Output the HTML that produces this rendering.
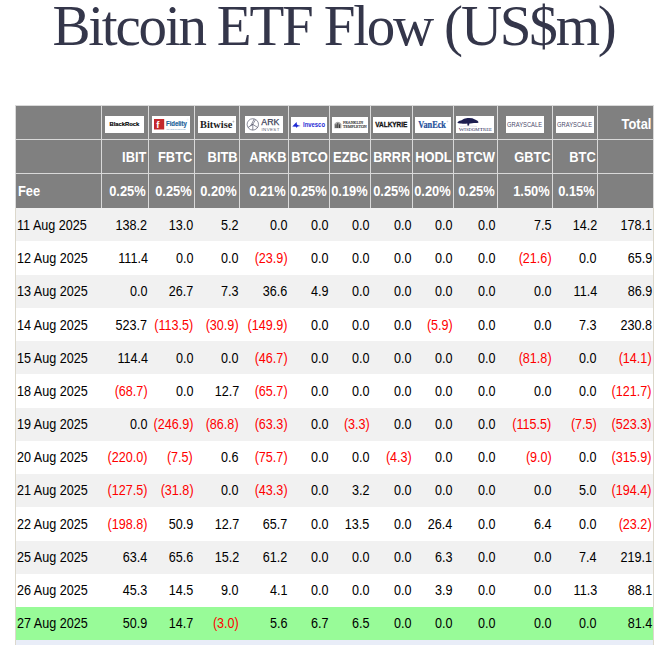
<!DOCTYPE html>
<html lang="en"><head><meta charset="utf-8"><title>Bitcoin ETF Flow (US$m)</title>
<style>
html,body{margin:0;padding:0;background:#fff}
body{width:660px;height:645px;overflow:hidden;position:relative}
h1{position:absolute;margin:0;left:52.4px;top:-7px;font-family:"Liberation Serif","Times New Roman",serif;font-weight:normal;font-size:57px;line-height:66px;color:#34364a;white-space:nowrap;letter-spacing:-2.2px}
.tbl{position:absolute;left:0;top:0;width:660px;height:645px}
.bg{position:absolute}
.t{position:absolute;white-space:nowrap;font-family:"Liberation Sans",Arial,sans-serif;font-size:14px;line-height:16px;color:#000;transform:scaleX(0.92);transform-origin:100% 0}
.l{transform-origin:0 0}
.d{transform:scaleX(0.9)}
.h{color:#fff;font-weight:bold}
.n{color:#f00}
.logo{position:absolute;background:#fff}
.logo svg{position:absolute;left:0;top:0}
</style></head><body>

<h1>Bitcoin ETF Flow (US$m)</h1>
<div class="tbl">
<div class="bg" style="left:15px;top:105px;width:639px;height:103px;background:#d9d9d9"></div>
<div class="bg" style="left:16px;top:106px;width:85px;height:33px;background:#808080"></div>
<div class="bg" style="left:102px;top:106px;width:46px;height:33px;background:#808080"></div>
<div class="bg" style="left:149px;top:106px;width:45px;height:33px;background:#808080"></div>
<div class="bg" style="left:195px;top:106px;width:44px;height:33px;background:#808080"></div>
<div class="bg" style="left:240px;top:106px;width:48px;height:33px;background:#808080"></div>
<div class="bg" style="left:289px;top:106px;width:40px;height:33px;background:#808080"></div>
<div class="bg" style="left:330px;top:106px;width:40px;height:33px;background:#808080"></div>
<div class="bg" style="left:371px;top:106px;width:41px;height:33px;background:#808080"></div>
<div class="bg" style="left:413px;top:106px;width:40px;height:33px;background:#808080"></div>
<div class="bg" style="left:454px;top:106px;width:43px;height:33px;background:#808080"></div>
<div class="bg" style="left:498px;top:106px;width:54px;height:33px;background:#808080"></div>
<div class="bg" style="left:553px;top:106px;width:44px;height:33px;background:#808080"></div>
<div class="bg" style="left:598px;top:106px;width:55px;height:33px;background:#808080"></div>
<div class="bg" style="left:16px;top:140px;width:85px;height:33px;background:#808080"></div>
<div class="bg" style="left:102px;top:140px;width:46px;height:33px;background:#808080"></div>
<div class="bg" style="left:149px;top:140px;width:45px;height:33px;background:#808080"></div>
<div class="bg" style="left:195px;top:140px;width:44px;height:33px;background:#808080"></div>
<div class="bg" style="left:240px;top:140px;width:48px;height:33px;background:#808080"></div>
<div class="bg" style="left:289px;top:140px;width:40px;height:33px;background:#808080"></div>
<div class="bg" style="left:330px;top:140px;width:40px;height:33px;background:#808080"></div>
<div class="bg" style="left:371px;top:140px;width:41px;height:33px;background:#808080"></div>
<div class="bg" style="left:413px;top:140px;width:40px;height:33px;background:#808080"></div>
<div class="bg" style="left:454px;top:140px;width:43px;height:33px;background:#808080"></div>
<div class="bg" style="left:498px;top:140px;width:54px;height:33px;background:#808080"></div>
<div class="bg" style="left:553px;top:140px;width:44px;height:33px;background:#808080"></div>
<div class="bg" style="left:598px;top:140px;width:55px;height:33px;background:#808080"></div>
<div class="bg" style="left:16px;top:174px;width:85px;height:34px;background:#808080"></div>
<div class="bg" style="left:102px;top:174px;width:46px;height:34px;background:#808080"></div>
<div class="bg" style="left:149px;top:174px;width:45px;height:34px;background:#808080"></div>
<div class="bg" style="left:195px;top:174px;width:44px;height:34px;background:#808080"></div>
<div class="bg" style="left:240px;top:174px;width:48px;height:34px;background:#808080"></div>
<div class="bg" style="left:289px;top:174px;width:40px;height:34px;background:#808080"></div>
<div class="bg" style="left:330px;top:174px;width:40px;height:34px;background:#808080"></div>
<div class="bg" style="left:371px;top:174px;width:41px;height:34px;background:#808080"></div>
<div class="bg" style="left:413px;top:174px;width:40px;height:34px;background:#808080"></div>
<div class="bg" style="left:454px;top:174px;width:43px;height:34px;background:#808080"></div>
<div class="bg" style="left:498px;top:174px;width:54px;height:34px;background:#808080"></div>
<div class="bg" style="left:553px;top:174px;width:44px;height:34px;background:#808080"></div>
<div class="bg" style="left:598px;top:174px;width:55px;height:34px;background:#808080"></div>
<div class="bg" style="left:16px;top:208.0px;width:637px;height:33.25px;background:#f1f1f1"></div>
<div class="bg" style="left:16px;top:241.25px;width:637px;height:33.25px;background:#fff"></div>
<div class="bg" style="left:16px;top:274.5px;width:637px;height:33.25px;background:#f1f1f1"></div>
<div class="bg" style="left:16px;top:307.75px;width:637px;height:33.25px;background:#fff"></div>
<div class="bg" style="left:16px;top:341.0px;width:637px;height:33.25px;background:#f1f1f1"></div>
<div class="bg" style="left:16px;top:374.25px;width:637px;height:33.25px;background:#fff"></div>
<div class="bg" style="left:16px;top:407.5px;width:637px;height:33.25px;background:#f1f1f1"></div>
<div class="bg" style="left:16px;top:440.75px;width:637px;height:33.25px;background:#fff"></div>
<div class="bg" style="left:16px;top:474.0px;width:637px;height:33.25px;background:#f1f1f1"></div>
<div class="bg" style="left:16px;top:507.25px;width:637px;height:33.25px;background:#fff"></div>
<div class="bg" style="left:16px;top:540.5px;width:637px;height:33.25px;background:#f1f1f1"></div>
<div class="bg" style="left:16px;top:573.75px;width:637px;height:33.25px;background:#fff"></div>
<div class="bg" style="left:16px;top:607.0px;width:637px;height:33.25px;background:#98fb98"></div>
<div class="bg" style="left:16px;top:640.25px;width:637px;height:20px;background:#e9edf8"></div>
<div class="bg" style="left:15px;top:208px;width:1px;height:437px;background:#dcd8cc"></div>
<div class="bg" style="left:653px;top:208px;width:1px;height:437px;background:#dcd8cc"></div>
<div class="t h" style="right:513.60px;top:149px">IBIT</div>
<div class="t h" style="right:514.10px;top:183px">0.25%</div>
<div class="t h" style="right:467.70px;top:149px">FBTC</div>
<div class="t h" style="right:468.20px;top:183px">0.25%</div>
<div class="t h" style="right:422.80px;top:149px">BITB</div>
<div class="t h" style="right:423.30px;top:183px">0.20%</div>
<div class="t h" style="right:373.70px;top:149px">ARKB</div>
<div class="t h" style="right:374.20px;top:183px">0.21%</div>
<div class="t h" style="right:332.80px;top:149px">BTCO</div>
<div class="t h" style="right:333.30px;top:183px">0.25%</div>
<div class="t h" style="right:291.60px;top:149px">EZBC</div>
<div class="t h" style="right:292.10px;top:183px">0.19%</div>
<div class="t h" style="right:249.60px;top:149px">BRRR</div>
<div class="t h" style="right:250.10px;top:183px">0.25%</div>
<div class="t h" style="right:208.70px;top:149px">HODL</div>
<div class="t h" style="right:209.20px;top:183px">0.20%</div>
<div class="t h" style="right:164.60px;top:149px">BTCW</div>
<div class="t h" style="right:165.10px;top:183px">0.25%</div>
<div class="t h" style="right:109.60px;top:149px">GBTC</div>
<div class="t h" style="right:110.10px;top:183px">1.50%</div>
<div class="t h" style="right:64.60px;top:149px">BTC</div>
<div class="t h" style="right:65.10px;top:183px">0.15%</div>
<div class="t h" style="right:8.30px;top:116px">Total</div>
<div class="t h l" style="left:17.7px;top:183px">Fee</div>
<div class="t l d" style="left:16.6px;top:217px">11 Aug 2025</div>
<div class="t d" style="right:512.50px;top:217px">138.2</div>
<div class="t d" style="right:466.90px;top:217px">13.0</div>
<div class="t d" style="right:421.10px;top:217px">5.2</div>
<div class="t d" style="right:372.70px;top:217px">0.0</div>
<div class="t d" style="right:331.30px;top:217px">0.0</div>
<div class="t d" style="right:290.40px;top:217px">0.0</div>
<div class="t d" style="right:248.60px;top:217px">0.0</div>
<div class="t d" style="right:207.70px;top:217px">0.0</div>
<div class="t d" style="right:164.10px;top:217px">0.0</div>
<div class="t d" style="right:108.30px;top:217px">7.5</div>
<div class="t d" style="right:63.10px;top:217px">14.2</div>
<div class="t d" style="right:8.20px;top:217px">178.1</div>
<div class="t l d" style="left:16.6px;top:250px">12 Aug 2025</div>
<div class="t d" style="right:512.50px;top:250px">111.4</div>
<div class="t d" style="right:466.90px;top:250px">0.0</div>
<div class="t d" style="right:421.10px;top:250px">0.0</div>
<div class="t d n" style="right:372.70px;top:250px">(23.9)</div>
<div class="t d" style="right:331.30px;top:250px">0.0</div>
<div class="t d" style="right:290.40px;top:250px">0.0</div>
<div class="t d" style="right:248.60px;top:250px">0.0</div>
<div class="t d" style="right:207.70px;top:250px">0.0</div>
<div class="t d" style="right:164.10px;top:250px">0.0</div>
<div class="t d n" style="right:108.30px;top:250px">(21.6)</div>
<div class="t d" style="right:63.10px;top:250px">0.0</div>
<div class="t d" style="right:8.20px;top:250px">65.9</div>
<div class="t l d" style="left:16.6px;top:283px">13 Aug 2025</div>
<div class="t d" style="right:512.50px;top:283px">0.0</div>
<div class="t d" style="right:466.90px;top:283px">26.7</div>
<div class="t d" style="right:421.10px;top:283px">7.3</div>
<div class="t d" style="right:372.70px;top:283px">36.6</div>
<div class="t d" style="right:331.30px;top:283px">4.9</div>
<div class="t d" style="right:290.40px;top:283px">0.0</div>
<div class="t d" style="right:248.60px;top:283px">0.0</div>
<div class="t d" style="right:207.70px;top:283px">0.0</div>
<div class="t d" style="right:164.10px;top:283px">0.0</div>
<div class="t d" style="right:108.30px;top:283px">0.0</div>
<div class="t d" style="right:63.10px;top:283px">11.4</div>
<div class="t d" style="right:8.20px;top:283px">86.9</div>
<div class="t l d" style="left:16.6px;top:317px">14 Aug 2025</div>
<div class="t d" style="right:512.50px;top:317px">523.7</div>
<div class="t d n" style="right:466.90px;top:317px">(113.5)</div>
<div class="t d n" style="right:421.10px;top:317px">(30.9)</div>
<div class="t d n" style="right:372.70px;top:317px">(149.9)</div>
<div class="t d" style="right:331.30px;top:317px">0.0</div>
<div class="t d" style="right:290.40px;top:317px">0.0</div>
<div class="t d" style="right:248.60px;top:317px">0.0</div>
<div class="t d n" style="right:207.70px;top:317px">(5.9)</div>
<div class="t d" style="right:164.10px;top:317px">0.0</div>
<div class="t d" style="right:108.30px;top:317px">0.0</div>
<div class="t d" style="right:63.10px;top:317px">7.3</div>
<div class="t d" style="right:8.20px;top:317px">230.8</div>
<div class="t l d" style="left:16.6px;top:350px">15 Aug 2025</div>
<div class="t d" style="right:512.50px;top:350px">114.4</div>
<div class="t d" style="right:466.90px;top:350px">0.0</div>
<div class="t d" style="right:421.10px;top:350px">0.0</div>
<div class="t d n" style="right:372.70px;top:350px">(46.7)</div>
<div class="t d" style="right:331.30px;top:350px">0.0</div>
<div class="t d" style="right:290.40px;top:350px">0.0</div>
<div class="t d" style="right:248.60px;top:350px">0.0</div>
<div class="t d" style="right:207.70px;top:350px">0.0</div>
<div class="t d" style="right:164.10px;top:350px">0.0</div>
<div class="t d n" style="right:108.30px;top:350px">(81.8)</div>
<div class="t d" style="right:63.10px;top:350px">0.0</div>
<div class="t d n" style="right:8.20px;top:350px">(14.1)</div>
<div class="t l d" style="left:16.6px;top:383px">18 Aug 2025</div>
<div class="t d n" style="right:512.50px;top:383px">(68.7)</div>
<div class="t d" style="right:466.90px;top:383px">0.0</div>
<div class="t d" style="right:421.10px;top:383px">12.7</div>
<div class="t d n" style="right:372.70px;top:383px">(65.7)</div>
<div class="t d" style="right:331.30px;top:383px">0.0</div>
<div class="t d" style="right:290.40px;top:383px">0.0</div>
<div class="t d" style="right:248.60px;top:383px">0.0</div>
<div class="t d" style="right:207.70px;top:383px">0.0</div>
<div class="t d" style="right:164.10px;top:383px">0.0</div>
<div class="t d" style="right:108.30px;top:383px">0.0</div>
<div class="t d" style="right:63.10px;top:383px">0.0</div>
<div class="t d n" style="right:8.20px;top:383px">(121.7)</div>
<div class="t l d" style="left:16.6px;top:416px">19 Aug 2025</div>
<div class="t d" style="right:512.50px;top:416px">0.0</div>
<div class="t d n" style="right:466.90px;top:416px">(246.9)</div>
<div class="t d n" style="right:421.10px;top:416px">(86.8)</div>
<div class="t d n" style="right:372.70px;top:416px">(63.3)</div>
<div class="t d" style="right:331.30px;top:416px">0.0</div>
<div class="t d n" style="right:290.40px;top:416px">(3.3)</div>
<div class="t d" style="right:248.60px;top:416px">0.0</div>
<div class="t d" style="right:207.70px;top:416px">0.0</div>
<div class="t d" style="right:164.10px;top:416px">0.0</div>
<div class="t d n" style="right:108.30px;top:416px">(115.5)</div>
<div class="t d n" style="right:63.10px;top:416px">(7.5)</div>
<div class="t d n" style="right:8.20px;top:416px">(523.3)</div>
<div class="t l d" style="left:16.6px;top:449px">20 Aug 2025</div>
<div class="t d n" style="right:512.50px;top:449px">(220.0)</div>
<div class="t d n" style="right:466.90px;top:449px">(7.5)</div>
<div class="t d" style="right:421.10px;top:449px">0.6</div>
<div class="t d n" style="right:372.70px;top:449px">(75.7)</div>
<div class="t d" style="right:331.30px;top:449px">0.0</div>
<div class="t d" style="right:290.40px;top:449px">0.0</div>
<div class="t d n" style="right:248.60px;top:449px">(4.3)</div>
<div class="t d" style="right:207.70px;top:449px">0.0</div>
<div class="t d" style="right:164.10px;top:449px">0.0</div>
<div class="t d n" style="right:108.30px;top:449px">(9.0)</div>
<div class="t d" style="right:63.10px;top:449px">0.0</div>
<div class="t d n" style="right:8.20px;top:449px">(315.9)</div>
<div class="t l d" style="left:16.6px;top:482px">21 Aug 2025</div>
<div class="t d n" style="right:512.50px;top:482px">(127.5)</div>
<div class="t d n" style="right:466.90px;top:482px">(31.8)</div>
<div class="t d" style="right:421.10px;top:482px">0.0</div>
<div class="t d n" style="right:372.70px;top:482px">(43.3)</div>
<div class="t d" style="right:331.30px;top:482px">0.0</div>
<div class="t d" style="right:290.40px;top:482px">3.2</div>
<div class="t d" style="right:248.60px;top:482px">0.0</div>
<div class="t d" style="right:207.70px;top:482px">0.0</div>
<div class="t d" style="right:164.10px;top:482px">0.0</div>
<div class="t d" style="right:108.30px;top:482px">0.0</div>
<div class="t d" style="right:63.10px;top:482px">5.0</div>
<div class="t d n" style="right:8.20px;top:482px">(194.4)</div>
<div class="t l d" style="left:16.6px;top:516px">22 Aug 2025</div>
<div class="t d n" style="right:512.50px;top:516px">(198.8)</div>
<div class="t d" style="right:466.90px;top:516px">50.9</div>
<div class="t d" style="right:421.10px;top:516px">12.7</div>
<div class="t d" style="right:372.70px;top:516px">65.7</div>
<div class="t d" style="right:331.30px;top:516px">0.0</div>
<div class="t d" style="right:290.40px;top:516px">13.5</div>
<div class="t d" style="right:248.60px;top:516px">0.0</div>
<div class="t d" style="right:207.70px;top:516px">26.4</div>
<div class="t d" style="right:164.10px;top:516px">0.0</div>
<div class="t d" style="right:108.30px;top:516px">6.4</div>
<div class="t d" style="right:63.10px;top:516px">0.0</div>
<div class="t d n" style="right:8.20px;top:516px">(23.2)</div>
<div class="t l d" style="left:16.6px;top:549px">25 Aug 2025</div>
<div class="t d" style="right:512.50px;top:549px">63.4</div>
<div class="t d" style="right:466.90px;top:549px">65.6</div>
<div class="t d" style="right:421.10px;top:549px">15.2</div>
<div class="t d" style="right:372.70px;top:549px">61.2</div>
<div class="t d" style="right:331.30px;top:549px">0.0</div>
<div class="t d" style="right:290.40px;top:549px">0.0</div>
<div class="t d" style="right:248.60px;top:549px">0.0</div>
<div class="t d" style="right:207.70px;top:549px">6.3</div>
<div class="t d" style="right:164.10px;top:549px">0.0</div>
<div class="t d" style="right:108.30px;top:549px">0.0</div>
<div class="t d" style="right:63.10px;top:549px">7.4</div>
<div class="t d" style="right:8.20px;top:549px">219.1</div>
<div class="t l d" style="left:16.6px;top:582px">26 Aug 2025</div>
<div class="t d" style="right:512.50px;top:582px">45.3</div>
<div class="t d" style="right:466.90px;top:582px">14.5</div>
<div class="t d" style="right:421.10px;top:582px">9.0</div>
<div class="t d" style="right:372.70px;top:582px">4.1</div>
<div class="t d" style="right:331.30px;top:582px">0.0</div>
<div class="t d" style="right:290.40px;top:582px">0.0</div>
<div class="t d" style="right:248.60px;top:582px">0.0</div>
<div class="t d" style="right:207.70px;top:582px">3.9</div>
<div class="t d" style="right:164.10px;top:582px">0.0</div>
<div class="t d" style="right:108.30px;top:582px">0.0</div>
<div class="t d" style="right:63.10px;top:582px">11.3</div>
<div class="t d" style="right:8.20px;top:582px">88.1</div>
<div class="t l d" style="left:16.6px;top:615px">27 Aug 2025</div>
<div class="t d" style="right:512.50px;top:615px">50.9</div>
<div class="t d" style="right:466.90px;top:615px">14.7</div>
<div class="t d n" style="right:421.10px;top:615px">(3.0)</div>
<div class="t d" style="right:372.70px;top:615px">5.6</div>
<div class="t d" style="right:331.30px;top:615px">6.7</div>
<div class="t d" style="right:290.40px;top:615px">6.5</div>
<div class="t d" style="right:248.60px;top:615px">0.0</div>
<div class="t d" style="right:207.70px;top:615px">0.0</div>
<div class="t d" style="right:164.10px;top:615px">0.0</div>
<div class="t d" style="right:108.30px;top:615px">0.0</div>
<div class="t d" style="right:63.10px;top:615px">0.0</div>
<div class="t d" style="right:8.20px;top:615px">81.4</div>
</div>
<div class="logo" style="left:105px;top:116px;width:39px;height:17px"><svg width="39" height="17" viewBox="0 0 39 17"><text x="4.4" y="10.3" font-family="Liberation Sans, Arial, sans-serif" font-weight="bold" font-size="6.1" textLength="30" lengthAdjust="spacingAndGlyphs" fill="#000" stroke="#000" stroke-width="0.15">BlackRock</text></svg></div>
<div class="logo" style="left:152px;top:116px;width:38px;height:17px"><svg width="38" height="17" viewBox="0 0 38 17"><rect x="2" y="3" width="10.2" height="10.5" fill="#c4282c"/><text x="4.3" y="11.6" font-family="Liberation Sans, Arial, sans-serif" font-weight="bold" font-size="9.5" fill="#fff">f</text><text x="14" y="10.3" font-family="Liberation Sans, Arial, sans-serif" font-weight="bold" font-size="7.4" textLength="20.8" lengthAdjust="spacingAndGlyphs" fill="#22629a" stroke="#22629a" stroke-width="0.2">Fidelity</text><text x="14.2" y="13.5" font-family="Liberation Sans, Arial, sans-serif" font-size="1.9" textLength="19.5" lengthAdjust="spacingAndGlyphs" fill="#7fa9cc">INVESTMENTS</text><circle cx="35.6" cy="3.6" r="0.6" fill="none" stroke="#bcd" stroke-width="0.2"/></svg></div>
<div class="logo" style="left:198px;top:116px;width:38px;height:17px"><svg width="38" height="17" viewBox="0 0 38 17"><text x="2.1" y="11.8" font-family="Liberation Serif, Times New Roman, serif" font-weight="bold" font-size="11" textLength="32.2" lengthAdjust="spacingAndGlyphs" fill="#1c1c1c">Bitwise</text><circle cx="35.4" cy="5.6" r="0.6" fill="none" stroke="#444" stroke-width="0.3"/></svg></div>
<div class="logo" style="left:245px;top:116px;width:38px;height:17px"><svg width="38" height="17" viewBox="0 0 38 17"><g fill="none" stroke="#3c3f58" stroke-width="0.6"><circle cx="7.8" cy="8.4" r="5.7"/><path d="M3 11.4 L7.8 8.4 L12.6 11.4 M7.8 8.4 L7.8 14.1 M5.6 10 L9.2 3 M7.2 9.2 L10.4 4"/></g><text x="16.3" y="9.1" font-family="Liberation Sans, Arial, sans-serif" font-size="8.8" textLength="18" lengthAdjust="spacingAndGlyphs" fill="#3a3d56" stroke="#3a3d56" stroke-width="0.25">ARK</text><text x="16.4" y="14.5" font-family="Liberation Sans, Arial, sans-serif" font-size="4.4" textLength="18" lengthAdjust="spacing" fill="#5b5e72">INVEST</text></svg></div>
<div class="logo" style="left:291px;top:117px;width:36px;height:16px"><svg width="36" height="16" viewBox="0 0 36 16"><path d="M1.3 9.6 L5.6 5 L5.9 7.6 L7.2 8.3 L9.6 9.1 L6.6 9.6 L5.5 10.9 L5 9.7 Z" fill="#1f2bd4"/><text x="12" y="10.2" font-family="Liberation Sans, Arial, sans-serif" font-weight="bold" font-size="7" textLength="22" lengthAdjust="spacingAndGlyphs" fill="#1f2bd4">Invesco</text></svg></div>
<div class="logo" style="left:332px;top:117px;width:36px;height:16px"><svg width="36" height="16" viewBox="0 0 36 16"><path d="M2.3 11.2 L2.3 7 Q5.8 2.6 9.4 7 L9.4 11.2 Z" fill="#a8a8a8"/><path d="M4 11 L4 7.4 M5.8 11 L5.8 6.2 M7.6 11 L7.6 7.4" stroke="#222" stroke-width="0.9"/><text x="11" y="7" font-family="Liberation Serif, serif" font-size="3.6" textLength="20" lengthAdjust="spacingAndGlyphs" fill="#3a3a3a" stroke="#3a3a3a" stroke-width="0.15">FRANKLIN</text><text x="11" y="11.1" font-family="Liberation Serif, serif" font-size="3.6" textLength="23.7" lengthAdjust="spacingAndGlyphs" fill="#3a3a3a" stroke="#3a3a3a" stroke-width="0.15">TEMPLETON</text></svg></div>
<div class="logo" style="left:373px;top:117px;width:37px;height:16px"><svg width="37" height="16" viewBox="0 0 37 16"><text x="2.2" y="10.4" font-family="Liberation Sans, Arial, sans-serif" font-weight="bold" font-size="7.6" textLength="32.2" lengthAdjust="spacingAndGlyphs" fill="#111" stroke="#111" stroke-width="0.3">VALKYRIE</text></svg></div>
<div class="logo" style="left:415px;top:117px;width:36px;height:16px"><svg width="36" height="16" viewBox="0 0 36 16"><text x="3.2" y="10.6" font-family="Liberation Serif, Times New Roman, serif" font-weight="bold" font-size="9.8" textLength="27.8" lengthAdjust="spacingAndGlyphs" fill="#1f4e9b" stroke="#1f4e9b" stroke-width="0.2">VanEck</text><circle cx="32.3" cy="4.5" r="0.5" fill="none" stroke="#6a86b8" stroke-width="0.25"/></svg></div>
<div class="logo" style="left:456px;top:116px;width:38px;height:17px"><svg width="38" height="17" viewBox="0 0 38 17"><path d="M1.3 6.4 Q2.6 4.6 5.6 4.2 Q7.6 2.2 11.5 2 Q16 1.6 19 3.4 Q22.2 4.4 22.7 6.2 Q21.5 7.3 18 7 Q15.5 7.6 13.4 7.4 L12.9 9.8 L11.5 9.8 L11.3 7.6 Q8 8 5.2 7.5 Q2 7.7 1.3 6.4 Z" fill="#1c1d50"/><path d="M4 10.4 Q12 9.4 21 10.4" stroke="#c8c8d8" stroke-width="0.5" fill="none"/><text x="2.7" y="15" font-family="Liberation Serif, serif" font-size="4.6" textLength="33.3" lengthAdjust="spacingAndGlyphs" fill="#2a2b5e">W<tspan font-size="3.6">ISDOM</tspan>T<tspan font-size="3.6">REE</tspan></text></svg></div>
<div class="logo" style="left:506px;top:116px;width:38px;height:17px"><svg width="38" height="17" viewBox="0 0 38 17"><text x="1.1" y="11" font-family="Liberation Sans, Arial, sans-serif" font-size="7.9" textLength="34.9" lengthAdjust="spacingAndGlyphs" fill="#4b4a6c">GRAYSCALE</text></svg></div>
<div class="logo" style="left:556px;top:116px;width:38px;height:17px"><svg width="38" height="17" viewBox="0 0 38 17"><text x="1.1" y="11" font-family="Liberation Sans, Arial, sans-serif" font-size="7.9" textLength="34.9" lengthAdjust="spacingAndGlyphs" fill="#4b4a6c">GRAYSCALE</text></svg></div>

</body></html>
